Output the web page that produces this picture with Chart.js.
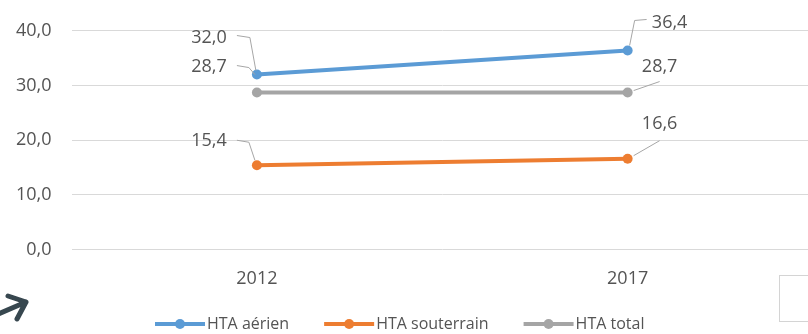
<!DOCTYPE html>
<html>
<head>
<meta charset="utf-8">
<script src="https://cdn.jsdelivr.net/npm/chart.js@4/dist/chart.umd.min.js"></script>
<style>
  html, body { margin: 0; padding: 0; background: #fff; overflow: hidden; }
  #wrap { position: relative; width: 818px; height: 334px; }
</style>
</head>
<body>
<div id="wrap"><canvas id="c"></canvas></div>
<script>
// Categories and series
const years = ['2012', '2017'];
const aerien = [32.0, 36.4];
const souterrain = [15.4, 16.6];
const total = [28.7, 28.7];
const seriesNames = ['HTA aérien', 'HTA souterrain', 'HTA total'];
const seriesColors = ['#5b9bd5', '#ed7d31', '#a5a5a5'];
const yTicks = [0, 10, 20, 30, 40];

const TEXT = '#545454';
const FONT = '"Open Sans", "Liberation Sans", sans-serif';

const fmt = v => v.toFixed(1).replace('.', ',');

// Label placement per dataset / point: label centre offset and leader path (relative to the point)
const labelLayout = [
  [ { dx: -48, dy: -37, path: [[-20, -39], [-7, -37], [-1, -4]] },
    { dx: 42,  dy: -28, path: [[19, -31], [7, -30], [2, -5]] } ],
  [ { dx: -48, dy: -24, path: [[-20, -25], [-8, -23], [-2, -5]] },
    { dx: 32,  dy: -35, path: [[32, -18], [6, -3]] } ],
  [ { dx: -48, dy: -26, path: [[-20, -27], [-8, -25], [-2, -18]] },
    { dx: 32,  dy: -26, path: [[32, -11], [6, -2]] } ]
];

const valueLabels = {
  id: 'valueLabels',
  afterDatasetsDraw(chart) {
    const ctx = chart.ctx;
    ctx.save();
    chart.data.datasets.forEach((ds, di) => {
      const meta = chart.getDatasetMeta(di);
      meta.data.forEach((pt, i) => {
        const lay = labelLayout[di][i];
        ctx.strokeStyle = '#a6a6a6';
        ctx.lineWidth = 1;
        ctx.beginPath();
        lay.path.forEach(([px, py], k) => {
          if (k === 0) ctx.moveTo(pt.x + px, pt.y + py);
          else ctx.lineTo(pt.x + px, pt.y + py);
        });
        ctx.stroke();
        ctx.fillStyle = TEXT;
        ctx.font = '18px ' + FONT;
        ctx.textAlign = 'center';
        ctx.textBaseline = 'middle';
        ctx.fillText(fmt(ds.data[i]), pt.x + lay.dx, pt.y + lay.dy);
      });
    });
    ctx.restore();
  }
};

// Legend row: line with marker, then series name
const legendRow = {
  id: 'legendRow',
  afterDraw(chart) {
    const ctx = chart.ctx;
    ctx.save();
    ctx.font = '16px ' + FONT;
    ctx.textBaseline = 'middle';
    ctx.textAlign = 'left';
    let x = 155;
    const y = 324;
    chart.data.datasets.forEach((ds) => {
      ctx.strokeStyle = ds.borderColor;
      ctx.lineWidth = 4;
      ctx.beginPath();
      ctx.moveTo(x, y);
      ctx.lineTo(x + 50, y);
      ctx.stroke();
      ctx.fillStyle = ds.borderColor;
      ctx.beginPath();
      ctx.arc(x + 25, y, 5, 0, Math.PI * 2);
      ctx.fill();
      ctx.fillStyle = TEXT;
      ctx.fillText(ds.label, x + 52, y);
      x += 52 + ctx.measureText(ds.label).width + 35;
    });
    ctx.restore();
  }
};

// Corner decorations
const decorations = {
  id: 'decorations',
  afterDraw(chart) {
    const ctx = chart.ctx;
    ctx.save();
    ctx.strokeStyle = '#d4d4d4';
    ctx.lineWidth = 1;
    ctx.strokeRect(779.5, 275.5, 60, 46);
    ctx.strokeStyle = '#37474f';
    ctx.lineWidth = 5;
    ctx.lineCap = 'round';
    ctx.lineJoin = 'round';
    ctx.beginPath();
    ctx.moveTo(-4, 315);
    ctx.lineTo(26, 302);
    ctx.moveTo(8, 296);
    ctx.lineTo(26, 302);
    ctx.lineTo(17, 319);
    ctx.stroke();
    ctx.restore();
  }
};

const datasets = [aerien, souterrain, total].map((vals, k) => ({
  label: seriesNames[k],
  data: vals,
  borderColor: seriesColors[k],
  backgroundColor: seriesColors[k],
  borderWidth: 4,
  pointRadius: 5,
  pointBorderWidth: 0,
  pointBackgroundColor: seriesColors[k],
  tension: 0,
  order: k + 1
}));

new Chart(document.getElementById('c'), {
  type: 'line',
  data: { labels: years, datasets },
  options: {
    responsive: true,
    maintainAspectRatio: false,
    animation: false,
    events: [],
    layout: { padding: { top: 21, left: -4, right: 0, bottom: 25 } },
    plugins: { legend: { display: false }, tooltip: { enabled: false } },
    scales: {
      x: {
        offset: true,
        grid: { display: false, drawTicks: false },
        border: { display: false },
        ticks: { color: TEXT, font: { family: FONT, size: 18 }, padding: 19 }
      },
      y: {
        min: 0, max: 40,
        afterBuildTicks: (axis) => { axis.ticks = yTicks.map(v => ({ value: v })); },
        grid: { color: '#d9d9d9', lineWidth: 1, drawTicks: false },
        border: { display: false },
        ticks: { color: TEXT, font: { family: FONT, size: 18 }, padding: 20,
                 callback: v => fmt(v) }
      }
    }
  },
  plugins: [valueLabels, legendRow, decorations]
});
</script>
</body>
</html>
